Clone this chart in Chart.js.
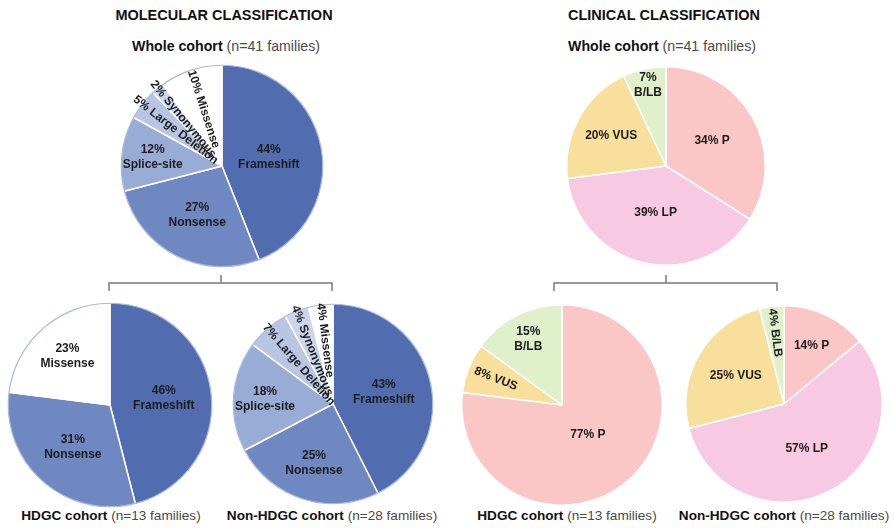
<!DOCTYPE html>
<html>
<head>
<meta charset="utf-8">
<script src="https://cdn.jsdelivr.net/npm/chart.js@4.4.1/dist/chart.umd.min.js"></script>
<style>
  html, body { margin: 0; padding: 0; background: #fff; }
  body { width: 894px; height: 528px; position: relative; overflow: hidden;
         font-family: "Liberation Sans", Arial, sans-serif; }
  .t { position: absolute; transform: translate(-50%, -50%); white-space: nowrap; color: #111; }
  .h { font-weight: bold; font-size: 14.5px; }
  .s { font-size: 14.2px; color: #4a4a4a; }
  .s.b2 { font-size: 13.6px; }
  .s b { color: #111; }
  .pie { position: absolute; }
  svg { position: absolute; left: 0; top: 0; }
</style>
</head>
<body>
<svg width="894" height="528">
  <g stroke="#7a7a7a" stroke-width="1.5" fill="none">
    <polyline points="109,291 109,283 332,283 332,291"/>
    <line x1="221" y1="275" x2="221" y2="283"/>
    <polyline points="554,291 554,283 777,283 777,291"/>
    <line x1="666" y1="275" x2="666" y2="283"/>
  </g>
</svg>
<script>
// ---- data ----
const molecularCategories = ['Frameshift', 'Nonsense', 'Splice-site', 'Large Deletion', 'Synonymous', 'Missense'];
const molecularWhole = [44, 27, 12, 5, 2, 10];
const molecularNonHdgc = [43, 25, 18, 7, 4, 4];
const molecularHdgcCategories = ['Frameshift', 'Nonsense', 'Missense'];
const molecularHdgc = [46, 31, 23];

const clinicalCategories = ['P', 'LP', 'VUS', 'B/LB'];
const clinicalWhole = [34, 39, 20, 7];
const clinicalNonHdgc = [14, 57, 25, 4];
const clinicalHdgcCategories = ['P', 'VUS', 'B/LB'];
const clinicalHdgc = [77, 8, 15];

const panelTitles = ['MOLECULAR CLASSIFICATION', 'CLINICAL CLASSIFICATION'];
const cohortNames = ['Whole cohort', 'HDGC cohort', 'Non-HDGC cohort'];
const cohortFamilies = [41, 13, 28];

// ---- styles ----
const sliceColors = {
  'Frameshift': '#516db0',
  'Nonsense': '#6f88c1',
  'Splice-site': '#99acd5',
  'Large Deletion': '#b8c6e4',
  'Synonymous': '#cad5ec',
  'Missense': '#ffffff',
  'P': '#fac6c6',
  'LP': '#f8c9e2',
  'VUS': '#f9df9c',
  'B/LB': '#dff0cb'
};

const FONT = '"Liberation Sans", Arial, sans-serif';

// Draws the percentage labels inside each slice (optionally rotated along the radius)
const sliceLabels = {
  id: 'sliceLabels',
  afterDatasetsDraw(chart, args, opts) {
    const ctx = chart.ctx;
    const meta = chart.getDatasetMeta(0);
    const values = chart.data.datasets[0].data;
    if (opts.outline) {
      const a = meta.data[0];
      ctx.save();
      ctx.beginPath();
      ctx.arc(a.x, a.y, a.outerRadius - 0.5, 0, Math.PI * 2);
      ctx.strokeStyle = opts.outline;
      ctx.lineWidth = 1.2;
      ctx.stroke();
      ctx.restore();
    }
    meta.data.forEach((arc, i) => {
      const name = chart.data.labels[i];
      const st = (opts.layout && opts.layout[name]) || {};
      const mid = (arc.startAngle + arc.endAngle) / 2;
      const r = arc.outerRadius * (st.f || 0.55);
      const x = arc.x + Math.cos(mid) * r;
      const y = arc.y + Math.sin(mid) * r;
      const lines = st.split ? [values[i] + '%', name] : [values[i] + '% ' + name];
      ctx.save();
      ctx.translate(x, y);
      if (st.rot) ctx.rotate(mid + Math.PI);
      ctx.font = 'bold 12px ' + FONT;
      ctx.fillStyle = '#1c1c1c';
      ctx.textAlign = 'center';
      ctx.textBaseline = 'middle';
      const lh = 15;
      lines.forEach((t, k) => ctx.fillText(t, 0, (k - (lines.length - 1) / 2) * lh));
      ctx.restore();
    });
  }
};

function makePie(cx, cy, radius, labels, values, layout, outline) {
  const size = Math.round(radius * 2 + 2);
  const box = document.createElement('div');
  box.className = 'pie';
  box.style.left = (cx - size / 2) + 'px';
  box.style.top = (cy - size / 2) + 'px';
  const cv = document.createElement('canvas');
  cv.width = size; cv.height = size;
  cv.style.width = size + 'px'; cv.style.height = size + 'px';
  box.appendChild(cv);
  document.body.appendChild(box);
  new Chart(cv, {
    type: 'pie',
    data: {
      labels: labels,
      datasets: [{
        data: values,
        backgroundColor: labels.map(l => sliceColors[l]),
        borderColor: '#ffffff',
        borderWidth: 1.5,
        hoverOffset: 0
      }]
    },
    options: {
      responsive: false,
      animation: false,
      events: [],
      layout: { padding: 0 },
      plugins: {
        legend: { display: false },
        tooltip: { enabled: false },
        sliceLabels: { layout: layout, outline: outline }
      }
    },
    plugins: [sliceLabels]
  });
}

function addText(cls, html, x, y) {
  const d = document.createElement('div');
  d.className = 't ' + cls;
  d.style.left = x + 'px';
  d.style.top = y + 'px';
  d.innerHTML = html;
  document.body.appendChild(d);
}
function caption(k) {
  return '<b>' + cohortNames[k] + '</b> (n=' + cohortFamilies[k] + ' families)';
}

// ---- titles and captions ----
addText('h', panelTitles[0], 224, 15);
addText('h', panelTitles[1], 664, 15);
addText('s', caption(0), 226, 46);
addText('s', caption(0), 662, 46);
addText('s b2', caption(1), 111, 515);
addText('s b2', caption(2), 332, 515);
addText('s b2', caption(1), 567, 515);
addText('s b2', caption(2), 784, 515);

// ---- molecular pies ----
makePie(222, 166, 101, molecularCategories, molecularWhole, {
  'Frameshift': { f: 0.47, split: true },
  'Nonsense': { f: 0.54, split: true },
  'Splice-site': { f: 0.69, split: true },
  'Large Deletion': { f: 0.58, rot: true },
  'Synonymous': { f: 0.60, rot: true },
  'Missense': { f: 0.59, rot: true }
}, '#a7b7dc');

makePie(110, 405, 102, molecularHdgcCategories, molecularHdgc, {
  'Frameshift': { f: 0.53, split: true },
  'Nonsense': { f: 0.55, split: true },
  'Missense': { f: 0.63, split: true }
}, '#a7b7dc');

makePie(333, 404, 100, molecularCategories, molecularNonHdgc, {
  'Frameshift': { f: 0.52, split: true },
  'Nonsense': { f: 0.62, split: true },
  'Splice-site': { f: 0.68, split: true },
  'Large Deletion': { f: 0.52, rot: true },
  'Synonymous': { f: 0.57, rot: true },
  'Missense': { f: 0.64, rot: true }
}, '#a7b7dc');

// ---- clinical pies ----
makePie(666, 166, 99, clinicalCategories, clinicalWhole, {
  'P': { f: 0.53 },
  'LP': { f: 0.48 },
  'VUS': { f: 0.63 },
  'B/LB': { f: 0.83, split: true }
}, null);

makePie(562, 405, 100, clinicalHdgcCategories, clinicalHdgc, {
  'P': { f: 0.39 },
  'VUS': { f: 0.71, rot: true },
  'B/LB': { f: 0.74, split: true }
}, null);

makePie(784, 404, 98, clinicalCategories, clinicalNonHdgc, {
  'P': { f: 0.66 },
  'LP': { f: 0.51 },
  'VUS': { f: 0.57 },
  'B/LB': { f: 0.73, rot: true }
}, null);
</script>
</body>
</html>
